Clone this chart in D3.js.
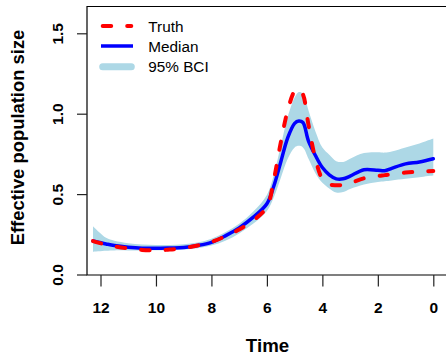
<!DOCTYPE html>
<html>
<head>
<meta charset="utf-8">
<script src="https://cdn.jsdelivr.net/npm/d3@7"></script>
<style>
  html, body { margin: 0; padding: 0; background: #fff; }
  svg { display: block; font-family: "Liberation Sans", Arial, sans-serif; }
</style>
</head>
<body>
<svg id="chart" width="446" height="355"></svg>
<script>
// time before present (reversed axis)
const times = [12.27, 11.8, 11.5, 11, 10.5, 10, 9.5, 9, 8.5, 8, 7.5, 7, 6.5, 6, 5.75, 5.5, 5.25, 5, 4.85, 4.7, 4.5, 4.25, 4, 3.75, 3.5, 3.25, 3, 2.5, 2, 1.75, 1.5, 1, 0.5, 0];
const median = [0.208, 0.19, 0.18, 0.17, 0.164, 0.163, 0.165, 0.168, 0.18, 0.2, 0.24, 0.29, 0.355, 0.44, 0.55, 0.70, 0.85, 0.94, 0.955, 0.945, 0.83, 0.74, 0.665, 0.62, 0.595, 0.595, 0.612, 0.652, 0.648, 0.645, 0.66, 0.688, 0.70, 0.72];
const truth = [0.208, 0.185, 0.175, 0.162, 0.153, 0.151, 0.155, 0.165, 0.18, 0.203, 0.237, 0.28, 0.335, 0.42, 0.59, 0.82, 1.02, 1.14, 1.155, 1.12, 0.93, 0.72, 0.595, 0.56, 0.555, 0.557, 0.568, 0.598, 0.613, 0.618, 0.624, 0.634, 0.64, 0.643];
const lower = [0.142, 0.148, 0.15, 0.15, 0.15, 0.151, 0.153, 0.156, 0.164, 0.18, 0.21, 0.255, 0.315, 0.395, 0.48, 0.6, 0.72, 0.79, 0.80, 0.79, 0.72, 0.63, 0.57, 0.535, 0.51, 0.513, 0.532, 0.56, 0.575, 0.58, 0.585, 0.595, 0.605, 0.615];
const upper = [0.30, 0.228, 0.21, 0.195, 0.186, 0.183, 0.184, 0.188, 0.199, 0.222, 0.262, 0.315, 0.39, 0.495, 0.62, 0.8, 0.98, 1.10, 1.135, 1.125, 1.02, 0.89, 0.79, 0.745, 0.705, 0.70, 0.72, 0.755, 0.76, 0.758, 0.765, 0.79, 0.815, 0.845];

const xTicks = [12, 10, 8, 6, 4, 2, 0];
const yTicks = [0, 0.5, 1.0, 1.5];
const legendItems = ["Truth", "Median", "95% BCI"];

const svg = d3.select("#chart");

const box = { left: 87, top: 6.5, right: 470, bottom: 275 };

const x = d3.scaleLinear().domain([12, 0]).range([100.5, 433.3]);
const y = d3.scaleLinear().domain([0, 1.5]).range([274.5, 33.3]);

const rows = times.map((t, i) => ({ t, med: median[i], tru: truth[i], lo: lower[i], hi: upper[i] }));

const curve = d3.curveCatmullRom.alpha(0.5);

svg.append("path")
  .datum(rows)
  .attr("fill", "#ADD8E6")
  .attr("d", d3.area().curve(curve)
    .x((d) => x(d.t)).y0((d) => y(d.lo)).y1((d) => y(d.hi)));

svg.append("path")
  .datum(rows)
  .attr("fill", "none")
  .attr("stroke", "#0000FF")
  .attr("stroke-width", 3.5)
  .attr("stroke-linecap", "round")
  .attr("d", d3.line().curve(curve).x((d) => x(d.t)).y((d) => y(d.med)));

svg.append("path")
  .datum(rows)
  .attr("fill", "none")
  .attr("stroke", "#FF0000")
  .attr("stroke-width", 4)
  .attr("stroke-linecap", "round")
  .attr("stroke-dasharray", "8.5,16")
  .attr("d", d3.line().curve(curve).x((d) => x(d.t)).y((d) => y(d.tru)));

// box (right side runs off the picture)
svg.append("path")
  .attr("fill", "none")
  .attr("stroke", "#000")
  .attr("stroke-width", 1.2)
  .attr("d", `M${box.right},${box.top}H${box.left}V${box.bottom}H${box.right}`);

// axes
const xAxis = svg.append("g")
  .attr("transform", `translate(0,${box.bottom})`)
  .call(d3.axisBottom(x).tickValues(xTicks).tickSize(11.5).tickPadding(14).tickFormat(d3.format("d")));
const yAxis = svg.append("g")
  .attr("transform", `translate(${box.left},0)`)
  .call(d3.axisLeft(y).tickValues(yTicks).tickSize(10).tickFormat(d3.format(".1f")));

[xAxis, yAxis].forEach((a) => {
  a.select(".domain").remove();
  a.selectAll("line").attr("stroke", "#222").attr("stroke-width", 1.2);
  a.selectAll("text")
    .attr("fill", "#000")
    .style("font-family", "'Liberation Sans', Arial, sans-serif")
    .style("font-size", "15.5px")
    .style("font-weight", "bold");
});

xAxis.selectAll("text").attr("dy", null).attr("y", 38);

// tick groups already sit at y(d); only shift left and turn
yAxis.selectAll("text")
  .attr("x", null)
  .attr("dy", null)
  .attr("y", 0)
  .attr("text-anchor", "middle")
  .attr("transform", "translate(-24,0) rotate(-90)");

// titles
svg.append("text")
  .attr("x", 267.5)
  .attr("y", 351.5)
  .attr("text-anchor", "middle")
  .style("font-size", "18.7px")
  .style("font-weight", "bold")
  .text("Time");

svg.append("text")
  .attr("transform", "translate(23.5,137.5) rotate(-90)")
  .attr("text-anchor", "middle")
  .style("font-size", "18.4px")
  .style("font-weight", "bold")
  .text("Effective population size");

// legend
const legY = [26, 46, 66.7];
const leg = svg.append("g");

leg.append("line")
  .attr("x1", 102.7).attr("x2", 131.3).attr("y1", legY[2]).attr("y2", legY[2])
  .attr("stroke", "#ADD8E6").attr("stroke-width", 7).attr("stroke-linecap", "round");
leg.append("line")
  .attr("x1", 101).attr("x2", 133).attr("y1", legY[1]).attr("y2", legY[1])
  .attr("stroke", "#0000FF").attr("stroke-width", 3.5);
leg.append("line")
  .attr("x1", 102.7).attr("x2", 131.3).attr("y1", legY[0]).attr("y2", legY[0])
  .attr("stroke", "#FF0000").attr("stroke-width", 4)
  .attr("stroke-linecap", "round").attr("stroke-dasharray", "8.5,16");

leg.selectAll("text")
  .data(legendItems)
  .join("text")
  .attr("x", 148.3)
  .attr("y", (d, i) => legY[i] + 5.5)
  .style("font-size", "15.3px")
  .text((d) => d);
</script>
</body>
</html>
